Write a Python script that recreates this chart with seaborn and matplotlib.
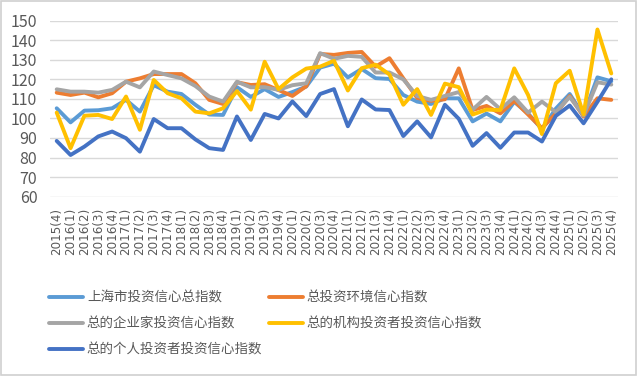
import matplotlib
matplotlib.use('Agg')
import matplotlib.pyplot as plt
import seaborn as sns
import pandas as pd
from matplotlib.patches import Rectangle

# Datos (índices trimestrales)
quarters = ['2015(4)',
            '2016(1)', '2016(2)', '2016(3)', '2016(4)',
            '2017(1)', '2017(2)', '2017(3)', '2017(4)',
            '2018(1)', '2018(2)', '2018(3)', '2018(4)',
            '2019(1)', '2019(2)', '2019(3)', '2019(4)',
            '2020(1)', '2020(2)', '2020(3)', '2020(4)',
            '2021(1)', '2021(2)', '2021(3)', '2021(4)',
            '2022(1)', '2022(2)', '2022(3)', '2022(4)',
            '2023(1)', '2023(2)', '2023(3)', '2023(4)',
            '2024(1)', '2024(2)', '2024(3)', '2024(4)',
            '2025(1)', '2025(2)', '2025(3)', '2025(4)']

shanghai_total = [105.2, 98, 104, 104.2, 105.2, 109.5, 103.5, 117, 113.7, 112.5, 107, 102, 101.8,
                  116, 111, 115, 111, 113.5, 116.3, 126, 128, 121, 125.3, 120.6, 120.2, 112, 108.6,
                  107.4, 110.3, 110.3, 98.5, 102.5, 98.5, 108.5, 102.5, 94.5, 105, 112.5, 101.5, 121, 119]
environment = [113.2, 112, 113.2, 110.8, 112.9, 118.8, 120.5, 122.7, 122.7, 122.7, 118, 109.5, 107.4,
               118.5, 117.1, 117.5, 114.5, 111.5, 116.5, 133, 132.5, 133.5, 134, 126.5, 130.8, 120.5, 110.5,
               109, 109.8, 125.6, 104.3, 106.4, 102.6, 109, 102, 95, 102.5, 111.5, 101, 110.3, 109.5]
enterprise = [114.9, 113.7, 113.7, 113.2, 114.6, 118.8, 115.9, 124, 122.2, 120.5, 116.6, 111.2, 108.6,
              118.8, 115.9, 116, 114.6, 117, 118, 133.4, 130.5, 132, 131.5, 123.5, 123.5, 120, 111.5,
              109.5, 111.5, 113.5, 104.5, 111, 104.7, 110.8, 103, 108.6, 103.2, 111, 101.5, 118.5, 117.3]
institutional = [103, 84.8, 101.4, 101.8, 99.7, 111.2, 94.2, 119.7, 112.9, 110.3, 103.5, 102.6, 105.2,
                 114, 104.5, 129, 115, 121, 125.5, 126.5, 129.5, 114.3, 125.7, 127.5, 122.5, 107, 115,
                 101.8, 117.8, 116, 102, 104.5, 104.3, 125.6, 112, 92, 118, 124.4, 102, 145.5, 123]
individual = [88.5, 81.3, 85.6, 90.8, 93.3, 89.9, 83, 99.7, 95, 95, 89.3, 84.8, 83.9,
              101, 89, 102.3, 100, 108.7, 101.2, 112.5, 115, 96, 109.7, 104.6, 104.3, 91, 98.5,
              90.3, 107, 99.8, 86, 92.5, 85, 92.8, 92.8, 88.2, 101.3, 106.6, 97.5, 108.5, 120]

series_names = ['上海市投资信心总指数', '总投资环境信心指数', '总的企业家投资信心指数',
                '总的机构投资者投资信心指数', '总的个人投资者投资信心指数']
series_values = [shanghai_total, environment, enterprise, institutional, individual]
colores = ['#5B9BD5', '#ED7D31', '#A5A5A5', '#FFC000', '#4472C4']

filas = []
for nombre, valores in zip(series_names, series_values):
    for q, v in zip(quarters, valores):
        filas.append({'季度': q, '指数': v, '系列': nombre})
df = pd.DataFrame(filas)

sns.set_theme(style='white')
plt.rcParams['font.family'] = ['Noto Sans CJK SC', 'DejaVu Sans']

fig = plt.figure(figsize=(6.38, 3.76), dpi=100)
ax = fig.add_axes([0.078, 0.477, 0.891, 0.468])

sns.lineplot(data=df, x='季度', y='指数', hue='系列', hue_order=series_names,
             palette=colores, sort=False, errorbar=None, linewidth=2.8,
             legend=False, ax=ax)
for ln in ax.get_lines():
    ln.set_solid_joinstyle('round')
    ln.set_solid_capstyle('round')

ax.set_ylim(60, 150)
ax.set_yticks(range(60, 151, 10))
ax.set_xlim(-0.5, len(quarters) - 0.5)
ax.set_xticks(range(len(quarters)))
ax.set_xticklabels(quarters, rotation=90, family=['DejaVu Sans'])
ax.grid(axis='y', color='#D9D9D9', linewidth=1)
ax.set_axisbelow(True)
for s in ax.spines.values():
    s.set_visible(False)
ax.set_xlabel('')
ax.set_ylabel('')
ax.tick_params(axis='y', labelsize=11.5, colors='#595959', length=0, pad=9)
ax.tick_params(axis='x', labelsize=8.6, colors='#595959', length=0, pad=8)

# Leyenda en dos columnas (orden como en Excel)
lineas = ax.get_lines()
orden = [0, 2, 4, 1, 3]
leg = fig.legend([lineas[i] for i in orden], [series_names[i] for i in orden],
                 ncol=2, loc='upper left', bbox_to_anchor=(0.077, 0.227),
                 frameon=False, fontsize=9.7, handlelength=2.5, handletextpad=0.3,
                 columnspacing=0.5, labelspacing=0.9, borderpad=0, borderaxespad=0)
for t in leg.get_texts():
    t.set_color('#595959')

fig.patches.append(Rectangle((0.002, 0.003), 0.995, 0.994, transform=fig.transFigure,
                             fill=False, edgecolor='#D0D0D0', linewidth=1.2))

plt.savefig('out.png', dpi=100)
